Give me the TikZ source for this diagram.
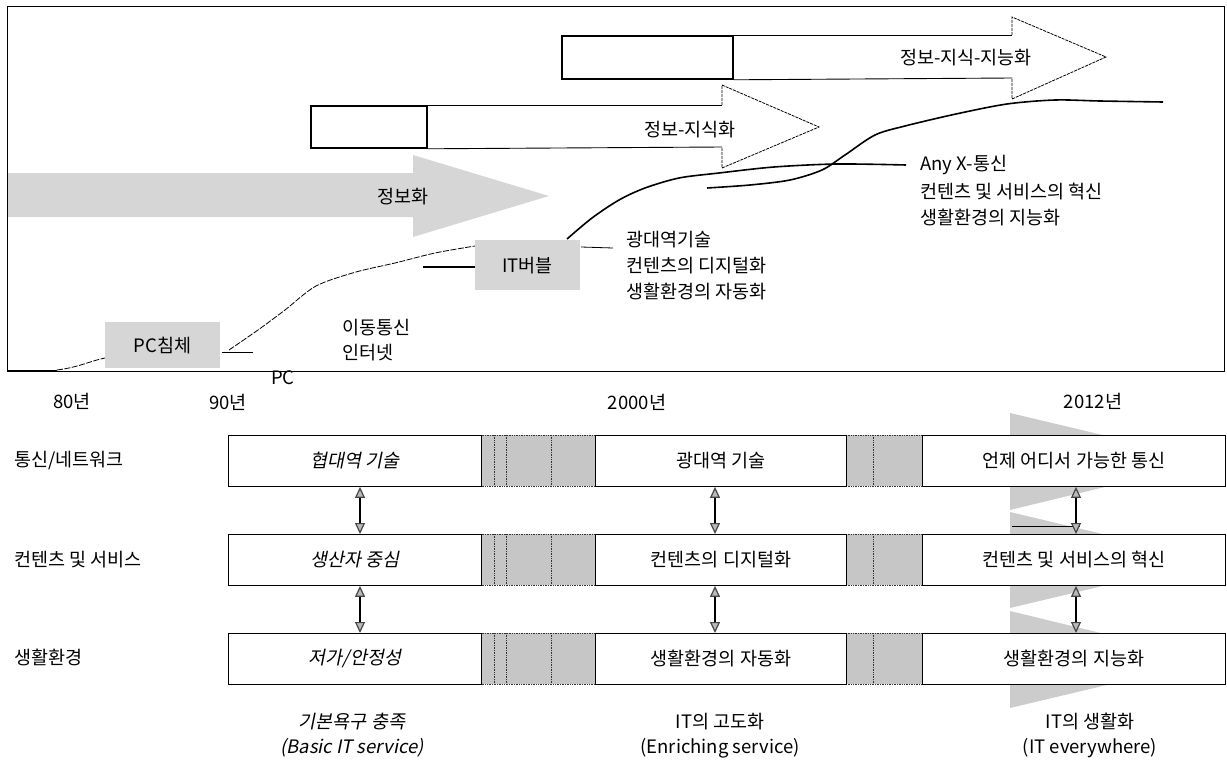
\documentclass[tikz,border=0pt]{standalone}
\usepackage{fontspec}
\setmainfont{Noto Sans CJK KR}
\newfontfamily\krit[FakeSlant=0.2]{Noto Sans CJK KR}
\usetikzlibrary{arrows.meta,calc}
\tikzset{
  txt/.style={font=\fontsize{18.5}{24}\selectfont, inner sep=0pt},
  txtw/.style={txt, anchor=west},
  rowbox/.style={draw, fill=white, line width=0.9pt, anchor=north west, minimum height=51pt, inner sep=0pt, font=\fontsize{18.5}{24}\selectfont},
  band/.style={fill=gray!45, draw=black!80, densely dotted, line width=0.7pt},
  vdots/.style={draw=black!80, densely dotted, line width=0.7pt},
  greybox/.style={fill=gray!32, inner sep=0pt, anchor=north west, font=\fontsize{18.5}{24}\selectfont},
  bigcurve/.style={line width=1.6pt, line join=round},
  thincurve/.style={line width=0.8pt, dash pattern=on 6pt off 1.5pt},
  arrbody/.style={line width=0.9pt},
  arrhead/.style={line width=0.8pt, dash pattern=on 3pt off 1pt},
  thickbox/.style={draw, line width=1.8pt, fill=white, anchor=north west, inner sep=0pt},
  dtip/.tip={Triangle[length=11pt,width=10pt,fill=gray!55,color=gray!55!black]},
  dbl/.style={line width=1.2pt, dtip-dtip},
  bgtri/.style={fill=gray!40},
}
\begin{document}
\begin{tikzpicture}[x=1pt,y=-1pt]
\useasboundingbox (0,0) rectangle (1227,760);

% ---------------- top panel ----------------
% grey arrow
\fill[gray!32] (7,173) -- (413,173) -- (413,155) -- (549,196) -- (413,237) -- (413,217) -- (7,217) -- cycle;
\node[txt] (infor) at (403,197) {정보화};

% frame
\draw[line width=1pt] (7,7) rectangle (1224,371);

% arrow B
\node[thickbox, minimum width=116pt, minimum height=42pt] (boxB) at (310,105) {};
\coordinate (hBt) at (722,105);
\coordinate (hBb) at (722,147);
\coordinate (tipB) at (819,127);
\draw[arrbody] (boxB.north east) -- (hBt);
\draw[arrbody] (boxB.south east) -- (hBb);
\draw[arrhead] (hBt) -- ++(0,-20) -- (tipB) -- (722,168) -- (hBb);
\node[txt] (tB) at (690,130) {정보-지식화};

% arrow A
\node[thickbox, minimum width=171pt, minimum height=43pt] (boxA) at (561,35) {};
\coordinate (hAt) at (1012,35);
\coordinate (hAb) at (1012,78);
\coordinate (tipA) at (1106,57);
\draw[arrbody] (boxA.north east) -- (hAt);
\draw[arrbody] (boxA.south east) -- (hAb);
\draw[arrhead] (hAt) -- ++(0,-18) -- (tipA) -- (1012,99) -- (hAb);
\node[txt] (tA) at (966,58) {정보-지식-지능화};

% curves
\draw[line width=1.6pt] (7,371) -- (57,371);
\draw[thincurve] (57,370) .. controls (80,367) and (90,361) .. (105,358);
\draw[thincurve] plot[smooth] coordinates {(229,350) (258,330) (285,310) (316,286) (356,272) (395,263) (435,253) (475,246)};
\draw[line width=0.8pt] (222,352) -- (253,352);
\draw[line width=1.6pt] (423,267) -- (475,267);
\draw[line width=0.8pt] (581,247) -- (613,248);
\draw[bigcurve] plot[smooth] coordinates {(567,239) (592,218) (619,200) (645,188) (679,178) (719,173) (774,167) (837,164) (906,165)};
\draw[bigcurve] plot[smooth] coordinates {(707,188) (750,185) (790,180) (822,170) (845,155) (875,135) (905,126) (956,114) (1007,104) (1055,100) (1100,101) (1163,102)};

% grey boxes
\node[greybox, minimum width=115pt, minimum height=46pt] (pcbox) at (105,322) {PC침체};
\node[greybox, minimum width=105pt, minimum height=50pt] (itbox) at (475,240) {IT버블};

% labels in top panel
\node[txtw] (m1) at (342,328) {이동통신};
\node[txtw] (m2) at (342,353) {인터넷};
\node[txtw] (b1) at (626,240) {광대역기술};
\node[txtw] (b2) at (626,266) {컨텐츠의 디지털화};
\node[txtw] (b3) at (626,292) {생활환경의 자동화};
\node[txtw] (a1) at (920,165) {Any X-통신};
\node[txtw] (a2) at (920,192) {컨텐츠 및 서비스의 혁신};
\node[txtw] (a3) at (920,218) {생활환경의 지능화};
\node[txt] (pc) at (283,378) {PC};

% years
\node[txt] (y80) at (72,401) {80년};
\node[txt] (y90) at (228,402) {90년};
\node[txt] (y00) at (637,402) {2000년};
\node[txt] (y12) at (1093,401) {2012년};

% ---------------- bottom table ----------------
% background arrowheads of the last column
\fill[bgtri] (1010,413) -- (1212,461) -- (1010,510) -- cycle;
\fill[bgtri] (1010,512) -- (1212,560) -- (1010,608) -- cycle;
\fill[bgtri] (1010,611) -- (1212,660) -- (1010,708) -- cycle;
\draw[line width=0.8pt] (1012,526) -- (1080,526);

% bands between columns
\foreach \yy in {435,534,633}{
  \draw[band] (480,\yy) rectangle (595,\yy+51);
  \draw[vdots] (494,\yy) -- (494,\yy+51);
  \draw[vdots] (506,\yy) -- (506,\yy+51);
  \draw[vdots] (551,\yy) -- (551,\yy+51);
  \draw[band] (846,\yy) rectangle (922,\yy+51);
  \draw[vdots] (873,\yy) -- (873,\yy+51);
}

% row labels
\node[txtw] (l1) at (14,461) {통신/네트워크};
\node[txtw] (l2) at (14,560) {컨텐츠 및 서비스};
\node[txtw] (l3) at (14,657) {생활환경};

% boxes
\node[rowbox, minimum width=253pt] (r1c1) at (228,435) {\krit 협대역 기술};
\node[rowbox, minimum width=253pt] (r2c1) at (228,534) {\krit 생산자 중심};
\node[rowbox, minimum width=253pt] (r3c1) at (228,633) {\krit 저가/안정성};
\node[rowbox, minimum width=251pt] (r1c2) at (595,435) {광대역 기술};
\node[rowbox, minimum width=251pt] (r2c2) at (595,534) {컨텐츠의 디지털화};
\node[rowbox, minimum width=251pt] (r3c2) at (595,633) {생활환경의 자동화};
\node[rowbox, minimum width=303pt] (r1c3) at (922,435) {언제 어디서 가능한 통신};
\node[rowbox, minimum width=303pt] (r2c3) at (922,534) {컨텐츠 및 서비스의 혁신};
\node[rowbox, minimum width=303pt] (r3c3) at (922,633) {생활환경의 지능화};

% double arrows
\coordinate (ax1) at (360,0);
\coordinate (ax2) at (715,0);
\coordinate (ax3) at (1076,0);
\draw[dbl] (r1c1.south -| ax1) -- (r2c1.north -| ax1);
\draw[dbl] (r2c1.south -| ax1) -- (r3c1.north -| ax1);
\draw[dbl] (r1c2.south -| ax2) -- (r2c2.north -| ax2);
\draw[dbl] (r2c2.south -| ax2) -- (r3c2.north -| ax2);
\draw[dbl] (r1c3.south -| ax3) -- (r2c3.north -| ax3);
\draw[dbl] (r2c3.south -| ax3) -- (r3c3.north -| ax3);

% bottom captions
\node[txt] (c1a) at (352,722) {\krit 기본욕구 충족};
\node[txt] (c1b) at (352,748) {\krit (Basic IT service)};
\node[txt] (c2a) at (720,722) {IT의 고도화};
\node[txt] (c2b) at (720,748) {(Enriching service)};
\node[txt] (c3a) at (1090,722) {IT의 생활화};
\node[txt] (c3b) at (1090,748) {(IT everywhere)};
\end{tikzpicture}
\end{document}
